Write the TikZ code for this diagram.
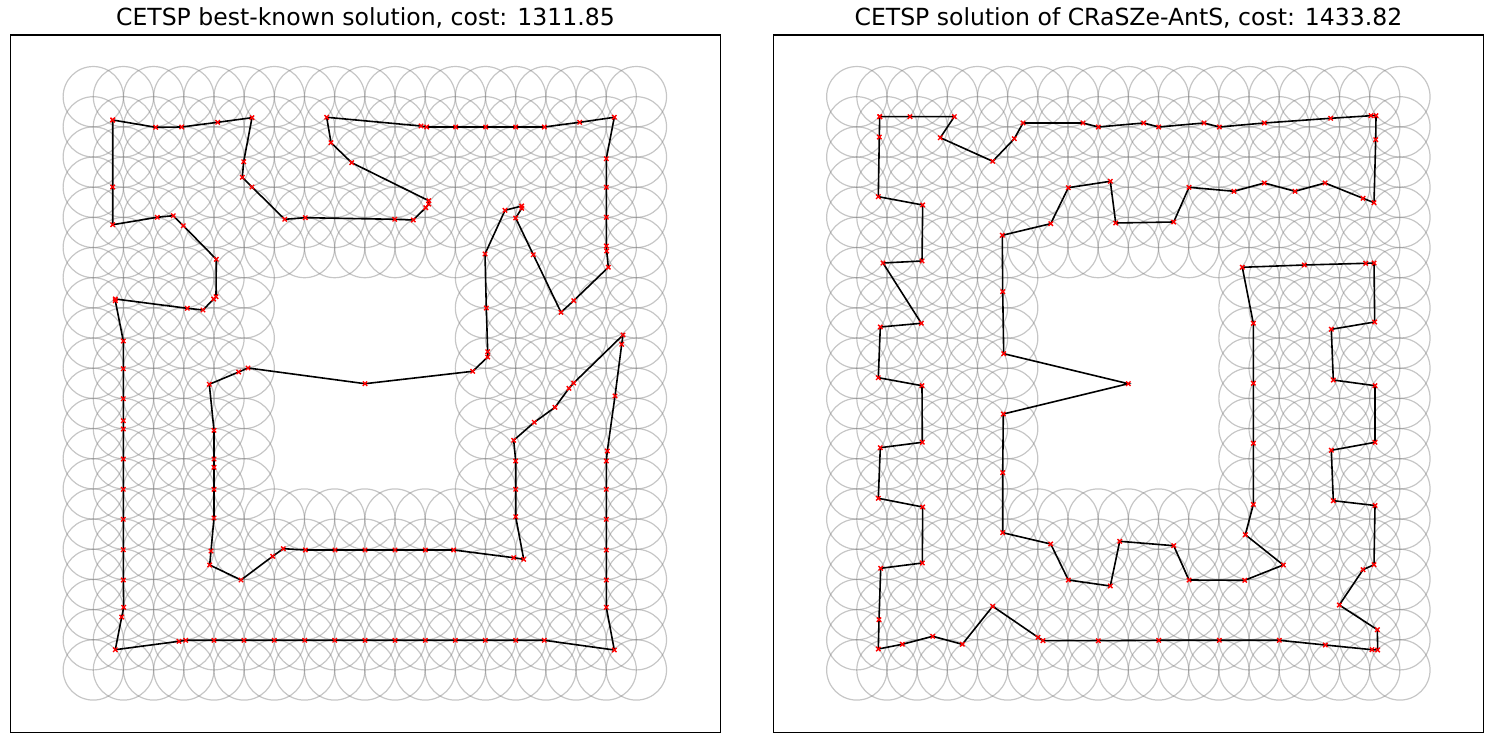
\documentclass[tikz,border=0pt]{standalone}
\usepackage{fontspec}
\setmainfont{DejaVu Sans}
\begin{document}
\begin{tikzpicture}[x=0.5pt,y=-0.5pt,
  ring/.style={draw=gray, draw opacity=0.45, line width=0.6pt},
  tour/.style={draw=black, line width=0.8pt, mark=x, mark size=1.55pt,
    mark options={draw=red, line width=0.7pt, solid}},
  frame/.style={draw=black, line width=0.6pt},
  ttl/.style={anchor=base, inner sep=0pt, font=\fontsize{11.77}{14}\selectfont}]
\useasboundingbox (0,0) rectangle (1494,742);
% circle grids
\foreach \i in {0,...,18}{
  \foreach \j in {0,...,19}{
    \pgfmathtruncatemacro\myhole{(\i>5)*(\i<13)*(\j>5)*(\j<14)}
    \ifnum\myhole=0
      \draw[ring] ({93.3+30.17*\i},{96.7+30.17*\j}) circle[radius=15.085pt];
      \draw[ring] ({856.8+30.17*\i},{96.7+30.17*\j}) circle[radius=15.085pt];
    \fi
  }
}
% frames
\draw[frame] (10.5,35) rectangle (720.3,732.3);
\draw[frame] (773.5,35) rectangle (1483.3,732.3);
% titles
\node[ttl] (t1) at (365.4,26) {CETSP best-known solution, cost: 1311.85};
\node[ttl] (t2) at (1128.4,26) {CETSP solution of CRaSZe-AntS, cost: 1433.82};
% left tour
\draw[tour] plot coordinates {
(112.7,120) (155.7,127.3) (181.7,127) (217.7,122.3) (252,117.7) (243.7,161.7)
(242.3,177.3) (252,187) (284.7,219.3) (305.3,217.7) (394.7,219.3) (413.3,220)
(425.7,207.7) (428.7,204) (428.7,200.7) (351.7,162.7) (331,142.7) (326.7,117.3)
(421,126) (426.7,127) (455.7,127) (485.7,127) (515.7,127) (544.3,127)
(579.7,122.3) (614.3,117.3) (606.3,158.7) (606.3,187.3) (606.3,217.3) (606.3,246)
(606.7,251) (608.3,267.3) (573.7,300.7) (561,312.3) (533.3,254.7) (515.7,218)
(521.7,208.3) (521.7,206) (505,210.3) (485,254) (486.3,308) (487.7,351.7)
(487.7,357) (472.7,371.3) (365,383.7) (248,368) (238.7,372) (209.3,384.3)
(214,430.3) (214,459) (214,467.3) (214,489.3) (214,518) (211,551) (209.7,565)
(241,580) (272.7,556.3) (283.3,548.7) (305.3,550) (335,550) (365,550) (395,550)
(425.3,550) (453.7,550) (513.7,557.7) (523.7,559.3) (515.7,516.7) (515.7,489.3)
(515.7,461) (513.7,440.3) (534.3,422.3) (555,407.3) (569,388.3) (573.7,383)
(623,335) (621.7,344.3) (615,396) (607.3,451) (606.3,461) (606.3,489.3)
(606.3,519.3) (606.3,550) (606.3,580) (606.3,607.3) (614.3,650) (544.3,640.3)
(515.7,640.3) (485.3,640.3) (455.3,640.3) (425.3,640.3) (395,640.3) (365,640.3)
(334.7,640.3) (304.7,640.3) (274.3,640.3) (244,640.3) (214,640.3) (185.7,640.3)
(179,641.3) (115.3,649.7) (121.7,617) (123.7,607.3) (123.3,580) (123.3,549.7)
(123.3,519.3) (123.3,489.3) (123.3,459) (123.3,429) (123.3,420.7) (123.3,398.7)
(123.3,368.7) (123.3,341) (115.3,300.7) (115.3,299) (187.3,308.3) (203,310)
(213.7,299) (216,296.7) (216.3,259.3) (183.3,225.7) (173.3,215.7) (157.3,217.3)
(112.7,224.7) (112.7,187) (112.7,120)};
% right tour
\draw[tour] plot coordinates {
(879.7,116.7) (910,116.7) (954.3,116.7) (940.3,137.7) (992.7,161.3) (1014.3,138.7)
(1023,123) (1083,123) (1098.3,127) (1143.7,123) (1158.7,127) (1204,123)
(1219.3,127) (1264.3,123) (1330.7,118.3) (1371,115.7) (1376,115.7) (1375.7,139.7)
(1374,202.7) (1363,198.3) (1325,183) (1295,191.3) (1264.3,183) (1234,191.3)
(1189,187.3) (1173.7,222) (1115.7,223) (1110.3,181.3) (1068.3,187.7) (1050.7,223.7)
(1002.3,235.3) (1002.7,291.7) (1003.7,353.7) (1128.3,383.7) (1003.3,414)
(1002.7,472.7) (1002.7,532.7) (1050.7,544) (1068.3,580) (1110.3,586) (1119.7,541.3)
(1173.7,545.7) (1189,580) (1244.7,580.3) (1283.3,565) (1245.3,534.7) (1253.3,504.5)
(1253.3,443.3) (1253.3,383.3) (1253.3,323.3) (1242.3,267.3) (1304.3,265)
(1365.7,263.3) (1374,263) (1374.7,322) (1331.3,329.3) (1333.3,380) (1375,385.7)
(1375,442.3) (1331.3,450.3) (1333.3,500.7) (1375,505.5) (1374,564.7) (1363,569.7)
(1339.3,605) (1377.3,629.7) (1377.7,650) (1372,649.7) (1325.3,645) (1279.3,640.3)
(1219.3,640.3) (1158.7,640.3) (1098.3,640.7) (1043,640.7) (1038,637.3) (992.7,606.3)
(962.3,644.3) (932.7,636.3) (902.3,644.3) (878.3,649) (879,619.7) (880.7,568.3)
(922.3,563) (922.7,507) (878.3,498.3) (880.3,447.7) (922.3,442.3) (922,385.7)
(878.3,377.7) (880.3,327) (921.3,323.3) (883,263) (922,261) (922.7,205)
(878.3,196.7) (879.3,137) (879.7,116.7)};
\end{tikzpicture}
\end{document}
